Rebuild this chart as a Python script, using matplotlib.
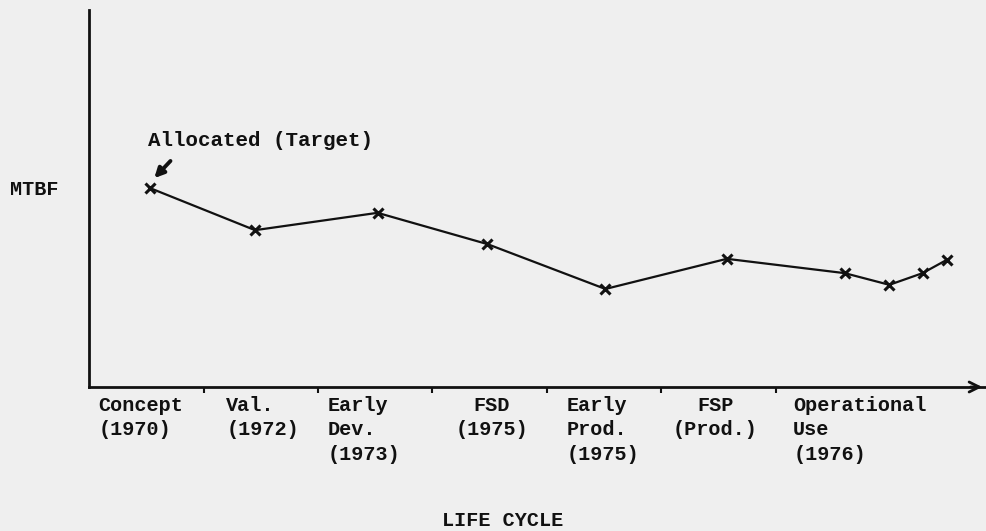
import matplotlib
matplotlib.use("Agg")
import matplotlib.pyplot as plt

# ---- data ----
stage_x = [0.53, 1.45, 2.52, 3.48, 4.51, 5.57, 6.60, 6.99, 7.28, 7.49]
mtbf = [52.8, 41.6, 46.2, 37.9, 26.0, 34.0, 30.2, 27.1, 30.2, 33.7]
tick_pos = [1, 2, 3, 4, 5, 6]
categories = ["Concept\n(1970)", "Val.\n(1972)", "Early\nDev.\n(1973)", "FSD\n(1975)",
              "Early\nProd.\n(1975)", "FSP\n(Prod.)", "Operational\nUse\n(1976)"]
cat_x = [0.08, 1.20, 2.08, 3.52, 4.17, 5.47, 6.15]
cat_ha = ["left", "left", "left", "center", "left", "center", "left"]

W, H = 987, 531
fig = plt.figure(figsize=(W / 100, H / 100), dpi=100)
fig.patch.set_facecolor("#efefef")

x0, x1, ytop, yax = 89, 985, 10, 387
ax = fig.add_axes([x0 / W, (H - yax) / H, (x1 - x0) / W, (yax - ytop) / H])
ax.set_facecolor("none")
ax.set_xlim(0, (x1 - x0) / 114.5)
ax.set_ylim(0, 100)
for s in ["top", "right"]:
    ax.spines[s].set_visible(False)
for s in ["left", "bottom"]:
    ax.spines[s].set_linewidth(2)
    ax.spines[s].set_color("#111111")
ax.set_yticks([])
ax.set_xticks(tick_pos)
ax.set_xticklabels([])
ax.tick_params(axis="x", direction="out", length=4, width=1.5, color="#111111")

FONT = "Liberation Mono"
ax.plot(stage_x, mtbf, color="#111111", lw=1.6, marker="x", ms=7, mew=2.2)

ax.annotate("", xy=(ax.get_xlim()[1], 0), xytext=(ax.get_xlim()[1] - 0.15, 0),
            arrowprops=dict(arrowstyle="->", lw=2, color="#111111", mutation_scale=18),
            annotation_clip=False)

ax.annotate("Allocated (Target)", xy=(0.57, 55.4), xytext=(0.515, 65.5),
            fontsize=15, family=FONT, fontweight="bold", va="center", ha="left",
            color="#111111",
            arrowprops=dict(arrowstyle="-|>", lw=2.8, color="#111111", mutation_scale=14,
                            shrinkA=0, shrinkB=0, relpos=(0.1, -0.6)))

ax.text(-0.69, 52.3, "MTBF", fontsize=14.5, family=FONT, fontweight="bold",
        va="center", ha="left", color="#111111", clip_on=False)

for lab, xp, ha in zip(categories, cat_x, cat_ha):
    ax.text(xp, -2.4, lab, fontsize=14.5, family=FONT, fontweight="bold",
            va="top", ha=ha, multialignment=ha, linespacing=1.35,
            color="#111111", clip_on=False)

ax.text(3.61, -35.3, "LIFE CYCLE", fontsize=14.5, family=FONT, fontweight="bold",
        va="center", ha="center", color="#111111", clip_on=False)

fig.savefig("out.png", dpi=100, facecolor=fig.get_facecolor())
